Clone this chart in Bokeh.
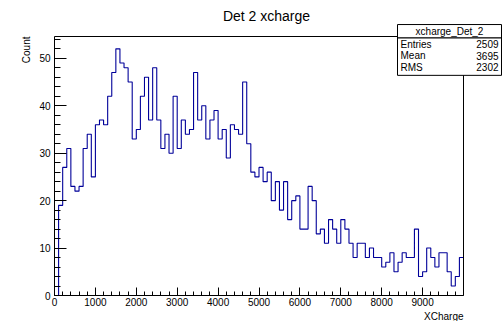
from bokeh.plotting import figure
from bokeh.models import FixedTicker, LinearAxis, Range1d, Title
from bokeh.core.properties import value
from bokeh.embed import file_html
from bokeh.resources import INLINE

# ---- data ----
hist_title = "Det 2 xcharge"
hist_name = "xcharge_Det_2"
x_min = 0
x_max = 10000
bin_width = 100
counts = [
    0, 19, 27, 31, 23, 22, 23, 31, 34, 25,
    36, 37, 36, 42, 47, 52, 49, 48, 45, 33,
    35, 42, 46, 37, 48, 37, 31, 34, 30, 42,
    31, 37, 34, 35, 47, 37, 40, 33, 37, 39,
    33, 35, 29, 36, 35, 34, 45, 32, 26, 25,
    27, 24, 26, 20, 24, 18, 24, 16, 20, 21,
    14, 14, 23, 20, 13, 14, 11, 16, 14, 11,
    16, 14, 11, 8, 11, 11, 8, 10, 8, 8,
    6, 7, 9, 5, 7, 9, 8, 8, 14, 4,
    5, 10, 8, 6, 9, 9, 5, 2, 4, 8,
]
y_max = 54.6
x_tick_values = [0, 1000, 2000, 3000, 4000, 5000, 6000, 7000, 8000, 9000]
x_minor_step = 200
y_tick_values = [0, 10, 20, 30, 40, 50]
y_minor_step = 2
stats_names = ["Entries", "Mean", "RMS"]
stats_values = ["2509", "3695", "2302"]
x_title = "XCharge"
y_title = "Count"

FONT = "Liberation Sans"
LINE = "#000099"

# layout (canvas pixels)
W, H = 503, 321
F_L, F_R, F_T, F_B = 54, 463, 36, 296

edges = [x_min + i * bin_width for i in range(len(counts) + 1)]
step_y = counts + [counts[-1]]

p = figure(width=W, height=H, x_range=Range1d(x_min, x_max), y_range=Range1d(0, y_max),
           output_backend="svg", toolbar_location=None,
           min_border_left=F_L, min_border_right=W - F_R,
           min_border_top=F_T, min_border_bottom=H - F_B)
p.background_fill_color = "white"
p.border_fill_color = "white"
p.outline_line_color = None
p.xgrid.visible = False
p.ygrid.visible = False
p.title.text = ""

p.step(x=edges, y=step_y, mode="after", line_color=LINE, line_width=1.1)

xa = p.xaxis[0]
xa.ticker = FixedTicker(ticks=x_tick_values,
                        minor_ticks=list(range(x_min, x_max + 1, x_minor_step)))
xa.major_tick_in = 8
xa.major_tick_out = 0
xa.minor_tick_in = 4
xa.minor_tick_out = 0
xa.major_label_standoff = 2
xa.major_label_text_font = FONT
xa.major_label_text_font_size = "10px"
xa.major_label_text_color = "black"
xa.axis_line_color = "black"
xa.major_tick_line_color = "black"
xa.minor_tick_line_color = "black"

ya = p.yaxis[0]
ya.ticker = FixedTicker(ticks=y_tick_values,
                        minor_ticks=list(range(0, int(y_max) + 1, y_minor_step)))
ya.major_tick_in = 12
ya.major_tick_out = 0
ya.minor_tick_in = 6
ya.minor_tick_out = 0
ya.major_label_standoff = 4
ya.major_label_text_font = FONT
ya.major_label_text_font_size = "10px"
ya.major_label_text_color = "black"
ya.axis_line_color = "black"
ya.major_tick_line_color = "black"
ya.minor_tick_line_color = "black"

for loc in ("above", "right"):
    ax = LinearAxis(ticker=FixedTicker(ticks=[]), major_tick_line_color=None,
                    minor_tick_line_color=None, axis_line_color="black",
                    major_label_text_font_size="1px")
    p.add_layout(ax, loc)

p.add_layout(Title(text=x_title, align="right", standoff=0, text_font=FONT,
                   text_font_size="10px", text_font_style="normal",
                   text_color="black"), "below")
p.add_layout(Title(text=y_title, align="right", text_font=FONT, text_font_size="10px",
                   text_font_style="normal", text_color="black"), "left")

# texts and stats box outside the frame, drawn on the overlay level (not clipped)
def dx(px):
    return x_min + (px - F_L) / (F_R - F_L) * (x_max - x_min)

def dy(py):
    return (F_B - py) / (F_B - F_T) * y_max

p.text(x=[dx(266)], y=[dy(15)], text=[hist_title],
       text_font=value(FONT), text_font_size="14px", text_align="center",
       text_baseline="middle", text_color="black", level="overlay")

bx_l, bx_r = 397, 501
by_t, by_div, by_b = 24, 37.5, 75
p.quad(left=[dx(bx_l), dx(bx_l)], right=[dx(bx_r), dx(bx_r)],
       top=[dy(by_t), dy(by_div)], bottom=[dy(by_div), dy(by_b)],
       fill_color="white", line_color="black", line_width=1, level="overlay")
p.text(x=[dx((bx_l + bx_r) / 2)], y=[dy(31)], text=[hist_name],
       text_font=value(FONT), text_font_size="10px", text_align="center",
       text_baseline="middle", text_color="black", level="overlay")
row_py = [44, 55.5, 67]
p.text(x=[dx(bx_l + 3)] * 3, y=[dy(v) for v in row_py], text=stats_names,
       text_font=value(FONT), text_font_size="10px", text_align="left",
       text_baseline="middle", text_color="black", level="overlay")
p.text(x=[dx(bx_r - 3)] * 3, y=[dy(v) for v in row_py], text=stats_values,
       text_font=value(FONT), text_font_size="10px", text_align="right",
       text_baseline="middle", text_color="black", level="overlay")

open("out.html", "w").write(file_html(p, INLINE))
